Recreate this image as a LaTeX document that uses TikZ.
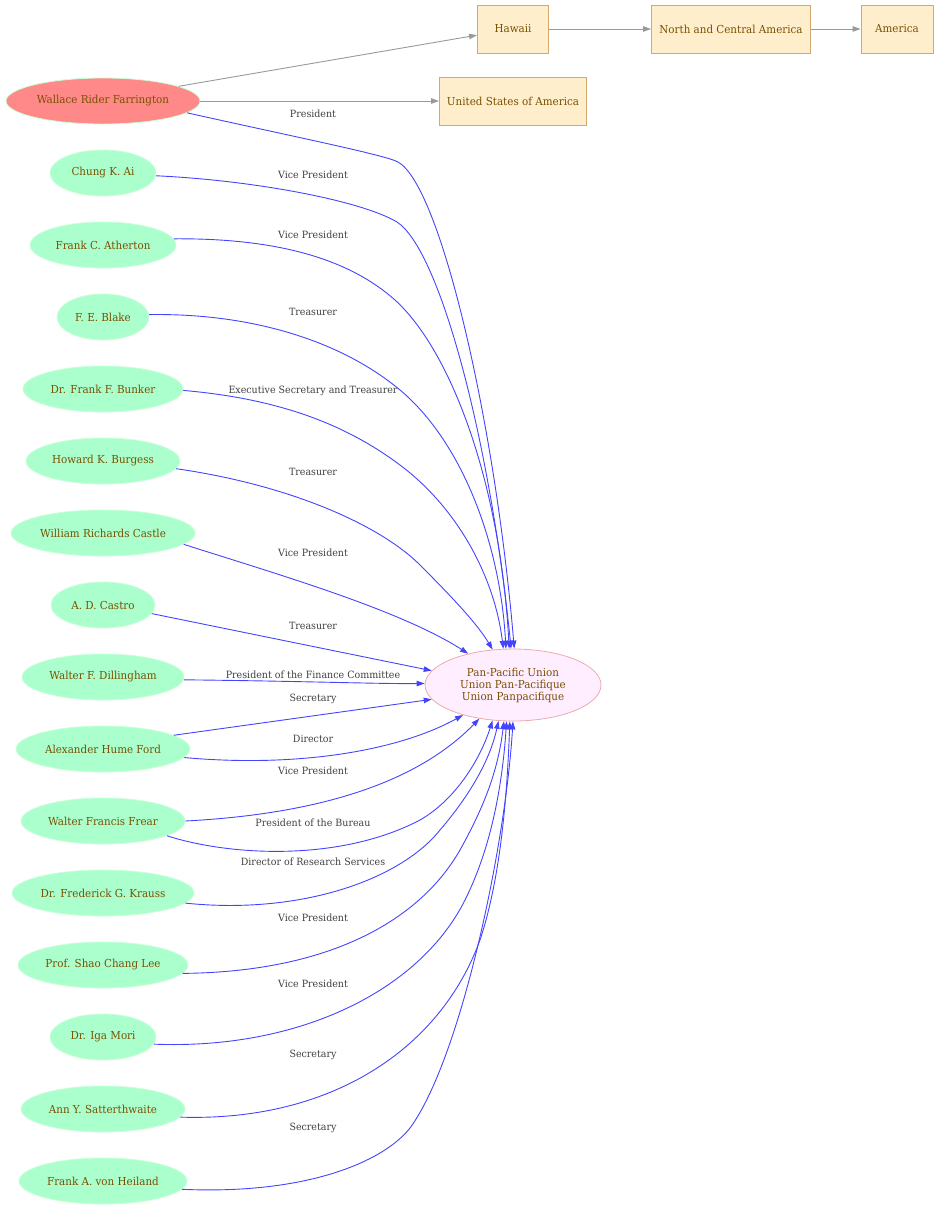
\documentclass[tikz,border=0pt]{standalone}
\usepackage{fontspec}
\setmainfont{DejaVu Serif}
\newfontfamily\nodefont{DejaVu Serif}[FakeStretch=0.94]
\newfontfamily\labelfont{DejaVu Serif}[FakeStretch=0.95]
\usetikzlibrary{shapes.geometric,arrows.meta}
\definecolor{pgreen}{HTML}{AAFFCC}
\definecolor{pgreenline}{HTML}{C8FFD8}
\definecolor{wred}{HTML}{FF8888}
\definecolor{boxfill}{HTML}{FFEECC}
\definecolor{boxline}{HTML}{D4A86E}
\definecolor{ppufill}{HTML}{FFEEFF}
\definecolor{ppuline}{HTML}{EEAAAA}
\definecolor{ntext}{HTML}{7A5000}
\definecolor{ltext}{HTML}{404040}
\definecolor{bedge}{HTML}{4444FF}
\definecolor{gedge}{HTML}{999999}
\tikzset{
  person/.style={ellipse, fill=pgreen, draw=pgreenline, line width=0.8pt, text=ntext, minimum height=46pt, inner sep=0pt, font=\nodefont\fontsize{11}{12}\selectfont},
  place/.style={rectangle, fill=boxfill, draw=boxline, line width=0.9pt, text=ntext, minimum height=48pt, inner sep=0pt, font=\nodefont\fontsize{11}{12}\selectfont},
  elabel/.style={text=ltext, inner sep=0pt, font=\labelfont\fontsize{10}{11}\selectfont},
  rel/.style={draw=bedge, line width=0.9pt, -{Triangle[length=8pt,width=5.5pt]}},
  loc/.style={draw=gedge, line width=0.9pt, -{Triangle[length=8pt,width=5.5pt]}}
}
\begin{document}
\begin{tikzpicture}[x=1pt,y=-1pt]
\useasboundingbox (0,0) rectangle (938,1211);
% places
\node[place, minimum width=71pt] (haw) at (513,29) {Hawaii};
\node[place, minimum width=159pt] (nca) at (731,29) {North and Central America};
\node[place, minimum width=72pt] (ame) at (897,29) {America};
\node[place, minimum width=147pt] (usa) at (513,101) {United States of America};
% center
\node[ellipse, fill=ppufill, draw=ppuline, line width=0.8pt, text=ntext, minimum width=176pt, minimum height=72pt, inner sep=0pt, align=center, font=\nodefont\fontsize{11}{12}\selectfont] (ppu) at (513,685) {Pan-Pacific Union\\Union Pan-Pacifique\\Union Panpacifique};
% persons
\node[person, fill=wred, minimum width=194pt] (wrf) at (103,101) {Wallace Rider Farrington};
\node[person, minimum width=106pt] (chu) at (103,173) {Chung K. Ai};
\node[person, minimum width=146pt] (ath) at (103,245) {Frank C. Atherton};
\node[person, minimum width=92pt] (bla) at (103,317) {F. E. Blake};
\node[person, minimum width=160pt] (bun) at (103,389) {Dr. Frank F. Bunker};
\node[person, minimum width=154pt] (bur) at (103,461) {Howard K. Burgess};
\node[person, minimum width=184pt] (cas) at (103,533) {William Richards Castle};
\node[person, minimum width=104pt] (cst) at (103,605) {A. D. Castro};
\node[person, minimum width=162pt] (dil) at (103,677) {Walter F. Dillingham};
\node[person, minimum width=174pt] (for) at (103,749) {Alexander Hume Ford};
\node[person, minimum width=164pt] (fre) at (103,821) {Walter Francis Frear};
\node[person, minimum width=182pt] (kra) at (103,893) {Dr. Frederick G. Krauss};
\node[person, minimum width=170pt] (lee) at (103,965) {Prof. Shao Chang Lee};
\node[person, minimum width=106pt] (mor) at (103,1037) {Dr. Iga Mori};
\node[person, minimum width=164pt] (sat) at (103,1109) {Ann Y. Satterthwaite};
\node[person, minimum width=168pt] (hei) at (103,1181) {Frank A. von Heiland};
% location edges
\draw[loc] (wrf.11) -- (haw);
\draw[loc] (wrf) -- (usa);
\draw[loc] (haw) -- (nca);
\draw[loc] (nca) -- (ame);
% relation edges
\draw[rel] (wrf.-8) .. controls (300,138) and (385,155) .. (398,162) .. controls (440,185) and (495,420) .. (ppu.88);
\draw[rel] (chu.-3) .. controls (250,180) and (360,200) .. (397,222) .. controls (440,250) and (490,440) .. (ppu.93);
\draw[rel] (ath.5) .. controls (280,238) and (350,260) .. (395,300) .. controls (450,350) and (500,480) .. (ppu.96);
\draw[rel] (bla.3) .. controls (250,313) and (340,340) .. (400,390) .. controls (460,440) and (500,540) .. (ppu.101);
\draw[rel] (bun.-1) .. controls (270,398) and (340,420) .. (400,465) .. controls (460,510) and (495,580) .. (ppu.105);
\draw[rel] (bur.-6) .. controls (290,485) and (380,525) .. (420,565) .. controls (455,600) and (478,625) .. (ppu.120);
\draw[rel] (cas.-8) .. controls (280,575) and (400,610) .. (ppu.145);
\draw[rel] (cst.-10) -- (ppu.170);
\draw[rel] (dil.-2) .. controls (300,681) and (380,684) .. (ppu.179);
\draw[rel] (for.11) -- (ppu.190);
\draw[rel] (for.-6) .. controls (300,768) and (400,750) .. (ppu.211);
\draw[rel] (fre.0) .. controls (300,815) and (410,790) .. (ppu.225);
\draw[rel] (fre.-13) .. controls (230,856) and (340,862) .. (420,820) .. controls (455,800) and (480,760) .. (ppu.240);
\draw[rel] (kra.-7) .. controls (300,915) and (400,880) .. (440,830) .. controls (470,795) and (490,760) .. (ppu.248);
\draw[rel] (lee.-6) .. controls (330,972) and (420,920) .. (460,850) .. controls (485,805) and (498,770) .. (ppu.256);
\draw[rel] (mor.-8) .. controls (300,1050) and (420,990) .. (465,900) .. controls (490,850) and (502,790) .. (ppu.260);
\draw[rel] (sat.-6) .. controls (330,1122) and (440,1050) .. (480,940) .. controls (500,880) and (507,800) .. (ppu.265);
\draw[rel] (hei.-6) .. controls (310,1195) and (385,1160) .. (410,1128) .. controls (460,1060) and (505,850) .. (ppu.270);
% edge labels
\node[elabel] (l1) at (313,114) {President};
\node[elabel] (l2) at (313,175) {Vice President};
\node[elabel] (l3) at (313,235) {Vice President};
\node[elabel] (l4) at (313,312) {Treasurer};
\node[elabel] (l5) at (313,391) {Executive Secretary and Treasurer};
\node[elabel] (l6) at (313,472) {Treasurer};
\node[elabel] (l7) at (313,553) {Vice President};
\node[elabel] (l8) at (313,626) {Treasurer};
\node[elabel] (l9) at (313,675) {President of the Finance Committee};
\node[elabel] (l10) at (313,699) {Secretary};
\node[elabel] (l11) at (313,739) {Director};
\node[elabel] (l12) at (313,771) {Vice President};
\node[elabel] (l13) at (313,823) {President of the Bureau};
\node[elabel] (l14) at (313,862) {Director of Research Services};
\node[elabel] (l15) at (313,918) {Vice President};
\node[elabel] (l16) at (313,984) {Vice President};
\node[elabel] (l17) at (313,1055) {Secretary};
\node[elabel] (l18) at (313,1128) {Secretary};
\end{tikzpicture}
\end{document}
